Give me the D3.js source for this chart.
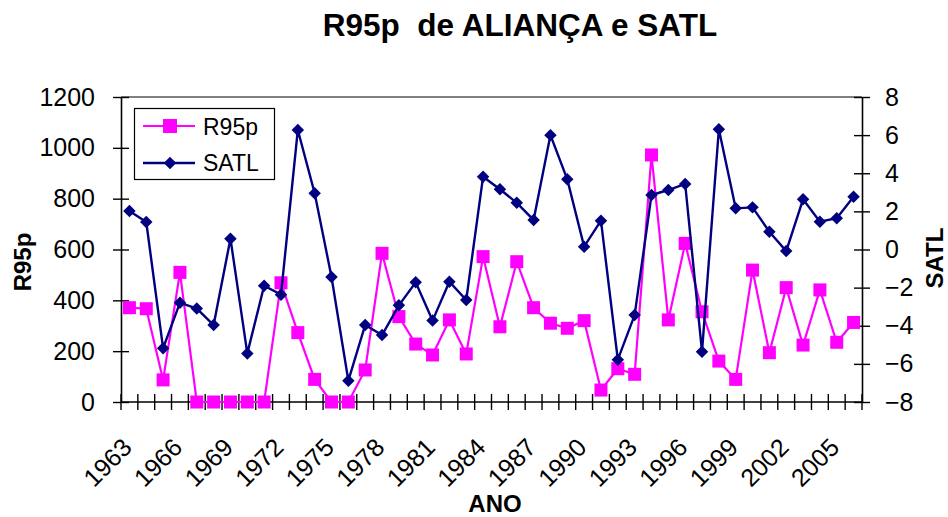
<!DOCTYPE html>
<html>
<head>
<meta charset="utf-8">
<script src="https://cdn.jsdelivr.net/npm/d3@7"></script>
<style>
  html, body { margin: 0; padding: 0; background: #fff; }
  svg { display: block; font-family: "Liberation Sans", Arial, sans-serif; }
</style>
</head>
<body>
<svg id="chart" width="948" height="517"></svg>
<script>
// Years on the category axis
const years = d3.range(1963, 2007);
// R95p (left axis)
const r95p = [371, 367, 87, 510, 0, 0, 0, 0, 0, 469,
              273, 89, 0, 0, 126, 585, 336, 228, 185, 323,
              189, 572, 296, 552, 371, 310, 290, 320, 47, 131,
              109, 972, 323, 624, 355, 161, 89, 519, 194, 450,
              224, 441, 235, 313];
// SATL index (right axis)
const satl = [2.02, 1.44, -5.18, -2.79, -3.10, -3.96, 0.57, -5.45, -1.90, -2.37,
              6.27, 2.95, -1.44, -6.88, -3.96, -4.49, -2.93, -1.72, -3.73, -1.69,
              -2.65, 3.82, 3.16, 2.45, 1.55, 6.00, 3.68, 0.15, 1.51, -5.78,
              -3.44, 2.86, 3.12, 3.44, -5.36, 6.31, 2.16, 2.21, 0.93, -0.08,
              2.63, 1.46, 1.64, 2.77];
// Tick labels on each axis
const yearLabels = years.filter((y, i) => i % 3 === 0);
const leftTicks = [0, 200, 400, 600, 800, 1000, 1200];
const rightTicks = [-8, -6, -4, -2, 0, 2, 4, 6, 8];

const PINK = "#ff00ff", NAVY = "#000080";
const svg = d3.select("#chart");

const plot = { left: 121, right: 862, top: 97, bottom: 402 };

const x = d3.scaleBand().domain(years).range([plot.left, plot.right]).padding(0);
const cx = d => x(d) + x.bandwidth() / 2;
const yL = d3.scaleLinear().domain([0, 1200]).range([plot.bottom, plot.top]);
const yR = d3.scaleLinear().domain([-8, 8]).range([plot.bottom, plot.top]);

// Title
svg.append("text")
  .attr("x", 520).attr("y", 36)
  .attr("text-anchor", "middle")
  .attr("font-size", 31.5).attr("font-weight", "bold")
  .attr("xml:space", "preserve")
  .text("R95p  de ALIANÇA e SATL");

// Top border of the plot area
svg.append("line")
  .attr("x1", plot.left).attr("x2", plot.right)
  .attr("y1", plot.top).attr("y2", plot.top)
  .attr("stroke", "#808080").attr("stroke-width", 2);

// Left axis
const gL = svg.append("g").attr("transform", `translate(${plot.left},0)`)
  .call(d3.axisLeft(yL).tickValues(leftTicks).tickSize(0).tickPadding(26).tickFormat(d3.format("d")));
gL.select(".domain").attr("stroke", "#000").attr("stroke-width", 1.6);
gL.selectAll(".tick text").attr("font-size", 25).attr("fill", "#000")
  .attr("font-family", "Liberation Sans, Arial, sans-serif");
gL.selectAll(".tick").append("line")
  .attr("x1", -8).attr("x2", 8).attr("stroke", "#000").attr("stroke-width", 1.4);

// Right axis
const gR = svg.append("g").attr("transform", `translate(${plot.right},0)`)
  .call(d3.axisRight(yR).tickValues(rightTicks).tickSize(0).tickPadding(23).tickFormat(d3.format("d")));
gR.select(".domain").attr("stroke", "#000").attr("stroke-width", 1.6);
gR.selectAll(".tick text").attr("font-size", 25).attr("fill", "#000")
  .attr("font-family", "Liberation Sans, Arial, sans-serif");
gR.selectAll(".tick").append("line")
  .attr("x1", -8).attr("x2", 8).attr("stroke", "#000").attr("stroke-width", 1.4);

// Bottom category axis: tick marks on band edges
const gB = svg.append("g");
gB.append("line")
  .attr("x1", plot.left).attr("x2", plot.right)
  .attr("y1", plot.bottom).attr("y2", plot.bottom)
  .attr("stroke", "#000").attr("stroke-width", 1.6);
const edges = years.map(d => x(d)).concat([x(years[years.length - 1]) + x.bandwidth()]);
gB.selectAll("line.tk").data(edges).join("line").attr("class", "tk")
  .attr("x1", d => d).attr("x2", d => d)
  .attr("y1", plot.bottom - 8).attr("y2", plot.bottom + 8)
  .attr("stroke", "#000").attr("stroke-width", 1.4);
gB.selectAll("text.yl").data(yearLabels).join("text").attr("class", "yl")
  .attr("transform", d => `translate(${cx(d) + 4},449) rotate(-45)`)
  .attr("text-anchor", "end")
  .attr("font-size", 25)
  .text(d => d);

// Axis titles
svg.append("text")
  .attr("transform", "translate(31,262) rotate(-90)")
  .attr("text-anchor", "middle")
  .attr("font-size", 24).attr("font-weight", "bold")
  .text("R95p");
svg.append("text")
  .attr("transform", "translate(943,258) rotate(-90)")
  .attr("text-anchor", "middle")
  .attr("font-size", 24).attr("font-weight", "bold")
  .text("SATL");
svg.append("text")
  .attr("x", 495).attr("y", 512)
  .attr("text-anchor", "middle")
  .attr("font-size", 24).attr("font-weight", "bold")
  .text("ANO");

// R95p series
const lineL = d3.line().x((d, i) => cx(years[i])).y(d => yL(d));
svg.append("path").datum(r95p)
  .attr("d", lineL).attr("fill", "none")
  .attr("stroke", PINK).attr("stroke-width", 2.2);
const sq = 13;
svg.append("g").selectAll("rect").data(r95p).join("rect")
  .attr("x", (d, i) => cx(years[i]) - sq / 2)
  .attr("y", d => yL(d) - sq / 2)
  .attr("width", sq).attr("height", sq)
  .attr("fill", PINK);

// SATL series
const lineR = d3.line().x((d, i) => cx(years[i])).y(d => yR(d));
svg.append("path").datum(satl)
  .attr("d", lineR).attr("fill", "none")
  .attr("stroke", NAVY).attr("stroke-width", 2.4);
const diamond = d3.symbol().type(d3.symbolSquare).size(78);
svg.append("g").selectAll("path").data(satl).join("path")
  .attr("d", diamond)
  .attr("transform", (d, i) => `translate(${cx(years[i])},${yR(d)}) rotate(45)`)
  .attr("fill", NAVY);

// Legend
const lg = svg.append("g");
lg.append("rect")
  .attr("x", 134.5).attr("y", 108.5).attr("width", 140).attr("height", 71)
  .attr("fill", "#fff").attr("stroke", "#000").attr("stroke-width", 1.2);
lg.append("line").attr("x1", 143).attr("x2", 195).attr("y1", 126).attr("y2", 126)
  .attr("stroke", PINK).attr("stroke-width", 2.2);
lg.append("rect").attr("x", 170 - 7).attr("y", 126 - 7).attr("width", 14).attr("height", 14)
  .attr("fill", PINK);
lg.append("line").attr("x1", 143).attr("x2", 195).attr("y1", 163).attr("y2", 163)
  .attr("stroke", NAVY).attr("stroke-width", 2.4);
lg.append("path").attr("d", diamond)
  .attr("transform", "translate(170,163) rotate(45)").attr("fill", NAVY);
lg.append("text").attr("x", 203).attr("y", 135).attr("font-size", 23).text("R95p");
lg.append("text").attr("x", 203).attr("y", 171).attr("font-size", 23).text("SATL");
</script>
</body>
</html>
